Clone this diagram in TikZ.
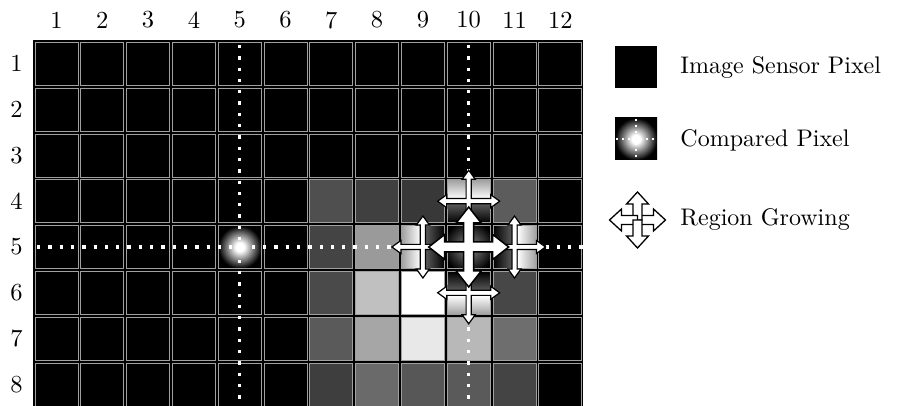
\documentclass[tikz,border=0pt]{standalone}
\usepackage{fontspec}
\definecolor{cA}{HTML}{4F4F4F}
\definecolor{cB}{HTML}{404040}
\definecolor{cC}{HTML}{383838}
\definecolor{cD}{HTML}{5C5C5C}
\definecolor{cE}{HTML}{444444}
\definecolor{cF}{HTML}{9A9A9A}
\definecolor{cG}{HTML}{4A4A4A}
\definecolor{cH}{HTML}{C0C0C0}
\definecolor{cI}{HTML}{474747}
\definecolor{cJ}{HTML}{5A5A5A}
\definecolor{cK}{HTML}{A6A6A6}
\definecolor{cL}{HTML}{E8E8E8}
\definecolor{cM}{HTML}{B8B8B8}
\definecolor{cN}{HTML}{6E6E6E}
\definecolor{cO}{HTML}{3E3E3E}
\definecolor{cP}{HTML}{6A6A6A}
\definecolor{cQ}{HTML}{575757}
\definecolor{outg}{HTML}{A0A0A0}
\definecolor{mid}{HTML}{5A5A5A}
\pgfdeclareradialshading{glow}{\pgfpoint{0bp}{0bp}}{color(0bp)=(white); color(5bp)=(white); color(15bp)=(black!50); color(25bp)=(black); color(50bp)=(black)}
\pgfdeclareradialshading{darkglow}{\pgfpoint{0bp}{0bp}}{color(0bp)=(black!45); color(30bp)=(black); color(50bp)=(black)}
\tikzset{
  cellbox/.style={draw=outg, line width=0.9pt},
  xarrow/.style={draw=black, fill=white, line join=miter},
  dotline/.style={white, line width=3.3pt, dash pattern=on 3.3pt off 8pt},
  lbl/.style={font=\fontsize{10}{12}\selectfont, inner sep=0pt, scale=2.45, transform shape},
  legtext/.style={font=\fontsize{10}{12}\selectfont, anchor=west, inner sep=0pt, scale=2.4, transform shape}
}
\newcommand\gridcell[3]{%
  \pgfmathsetmacro\xa{32.7+45.8*(#1-1)+2.4}%
  \pgfmathsetmacro\ya{40+45.8*(#2-1)+2.4}%
  \draw[cellbox,fill=#3] (\xa,\ya) rectangle ++(43,43);}
\newcommand\qbox[3]{%
  \shade[cellbox,#3] (#1,#2) rectangle ++(19,19);}
\newcommand\xcross[6]{%
  \begin{scope}[shift={#1}]
  \pgfmathsetmacro\xb{#2-#5}%
  \draw[#6] (#3,#3) -- (#3,\xb) -- (#4,\xb) -- (0,#2) -- (-#4,\xb) -- (-#3,\xb) -- (-#3,#3)
    -- (-\xb,#3) -- (-\xb,#4) -- (-#2,0) -- (-\xb,-#4) -- (-\xb,-#3) -- (-#3,-#3)
    -- (-#3,-\xb) -- (-#4,-\xb) -- (0,-#2) -- (#4,-\xb) -- (#3,-\xb) -- (#3,-#3)
    -- (\xb,-#3) -- (\xb,-#4) -- (#2,0) -- (\xb,#4) -- (\xb,#3) -- cycle;
  \end{scope}}
\newcommand\onearrow[6]{%
  \begin{scope}[shift={#1},rotate=#6]
  \pgfmathsetmacro\xb{#2-#5}%
  \draw[xarrow,line width=1.3pt] (0,-#3) -- (\xb,-#3) -- (\xb,-#4) -- (#2,0) -- (\xb,#4) -- (\xb,#3) -- (0,#3) -- cycle;
  \end{scope}}
\begin{document}
\begin{tikzpicture}[x=1pt,y=-1pt]
\useasboundingbox (0,0) rectangle (903,406);
\fill[white] (0,0) rectangle (903,406);
% grid frame
\fill[black] (32.7,40) rectangle (583,410);
% base cells
\foreach \i in {1,...,12}{\foreach \j in {1,...,8}{\gridcell{\i}{\j}{black}}}
% grey cells
\gridcell{7}{4}{cA}\gridcell{8}{4}{cB}\gridcell{9}{4}{cC}\gridcell{11}{4}{cD}
\gridcell{7}{5}{cE}\gridcell{8}{5}{cF}
\gridcell{7}{6}{cG}\gridcell{8}{6}{cH}\gridcell{9}{6}{white}\gridcell{11}{6}{cI}
\gridcell{7}{7}{cJ}\gridcell{8}{7}{cK}\gridcell{9}{7}{cL}\gridcell{10}{7}{cM}\gridcell{11}{7}{cN}
\gridcell{7}{8}{cO}\gridcell{8}{8}{cP}\gridcell{9}{8}{cQ}\gridcell{10}{8}{cJ}\gridcell{11}{8}{cE}
% compared pixel (5,5)
\pgfmathsetmacro\xa{32.7+45.8*4+2.4}\pgfmathsetmacro\ya{40+45.8*4+2.4}
\draw[outg,line width=0.9pt,shading=glow] (\xa,\ya) rectangle ++(43,43);
% cross cells: quadrants
% (10,4)
\pgfmathsetmacro\xa{32.7+45.8*9+2.4}\pgfmathsetmacro\ya{40+45.8*3+2.4}
\qbox{\xa}{\ya}{top color=outg,bottom color=white}
\qbox{\xa+24}{\ya}{top color=outg,bottom color=white}
\qbox{\xa}{\ya+24}{top color=mid,bottom color=black}
\qbox{\xa+24}{\ya+24}{top color=mid,bottom color=black}
% (10,6)
\pgfmathsetmacro\ya{40+45.8*5+2.4}
\qbox{\xa}{\ya}{top color=black,bottom color=mid}
\qbox{\xa+24}{\ya}{top color=black,bottom color=mid}
\qbox{\xa}{\ya+24}{top color=white,bottom color=outg}
\qbox{\xa+24}{\ya+24}{top color=white,bottom color=outg}
% (9,5)
\pgfmathsetmacro\xa{32.7+45.8*8+2.4}\pgfmathsetmacro\ya{40+45.8*4+2.4}
\qbox{\xa}{\ya}{left color=outg,right color=white}
\qbox{\xa}{\ya+24}{left color=outg,right color=white}
\qbox{\xa+24}{\ya}{left color=mid,right color=black}
\qbox{\xa+24}{\ya+24}{left color=mid,right color=black}
% (11,5)
\pgfmathsetmacro\xa{32.7+45.8*10+2.4}
\qbox{\xa}{\ya}{left color=black,right color=mid}
\qbox{\xa}{\ya+24}{left color=black,right color=mid}
\qbox{\xa+24}{\ya}{left color=white,right color=outg}
\qbox{\xa+24}{\ya+24}{left color=white,right color=outg}
% (10,5)
\pgfmathsetmacro\xa{32.7+45.8*9+2.4}
\shade[shading=darkglow] (\xa,\ya) rectangle ++(19,19) (\xa+24,\ya) rectangle ++(19,19)
  (\xa,\ya+24) rectangle ++(19,19) (\xa+24,\ya+24) rectangle ++(19,19);
\draw[cellbox] (\xa,\ya) rectangle ++(19,19) (\xa+24,\ya) rectangle ++(19,19)
  (\xa,\ya+24) rectangle ++(19,19) (\xa+24,\ya+24) rectangle ++(19,19);
% centres
\coordinate (p55) at (239.7,247);
\coordinate (p105) at (468.7,247);
\coordinate (p104) at (468.7,201.2);
\coordinate (p106) at (468.7,292.8);
\coordinate (p95) at (422.9,247);
\coordinate (p115) at (514.5,247);
% dotted lines
\draw[dotline] (239.7,45) -- (239.7,406);
\draw[dotline] (468.7,45) -- (468.7,406);
\draw[dotline] (37,247) -- (583,247);
% crosses
\xcross{(p104)}{31}{2.6}{6.5}{9}{xarrow,line width=1.2pt}
\xcross{(p106)}{31}{2.6}{6.5}{9}{xarrow,line width=1.2pt}
\xcross{(p95)}{31}{2.6}{6.5}{9}{xarrow,line width=1.2pt}
\xcross{(p115)}{31}{2.6}{6.5}{9}{xarrow,line width=1.2pt}
\xcross{(p105)}{40}{5}{12.5}{16}{xarrow,line width=1.5pt}
% labels
\foreach \i in {1,...,12}{\pgfmathsetmacro\cx{32.7+45.8*(\i-1)+23.8}
  \node[lbl] (c\i) at (\cx,20) {\i};}
\foreach \j in {1,...,8}{\pgfmathsetmacro\cy{40+45.8*(\j-1)+23.8}
  \node[lbl] (r\j) at (16.5,\cy) {\j};}
% legend
\fill[black] (615,46) rectangle (657,88);
\shade[shading=glow] (615,118) rectangle (657,160);
\draw[white,line width=2pt,dash pattern=on 2pt off 4pt] (636,119) -- (636,160);
\draw[white,line width=2pt,dash pattern=on 2pt off 4pt] (616,139) -- (657,139);
\coordinate (lg) at (637.5,220);
\onearrow{(lg)}{28}{4.5}{11}{12}{0}
\onearrow{(lg)}{28}{4.5}{11}{12}{90}
\onearrow{(lg)}{28}{4.5}{11}{12}{180}
\onearrow{(lg)}{28}{4.5}{11}{12}{270}
\node[legtext] (t1) at (680,68) {Image Sensor Pixel};
\node[legtext] (t2) at (680,140) {Compared Pixel};
\node[legtext] (t3) at (680,220) {Region Growing};
\end{tikzpicture}
\end{document}
